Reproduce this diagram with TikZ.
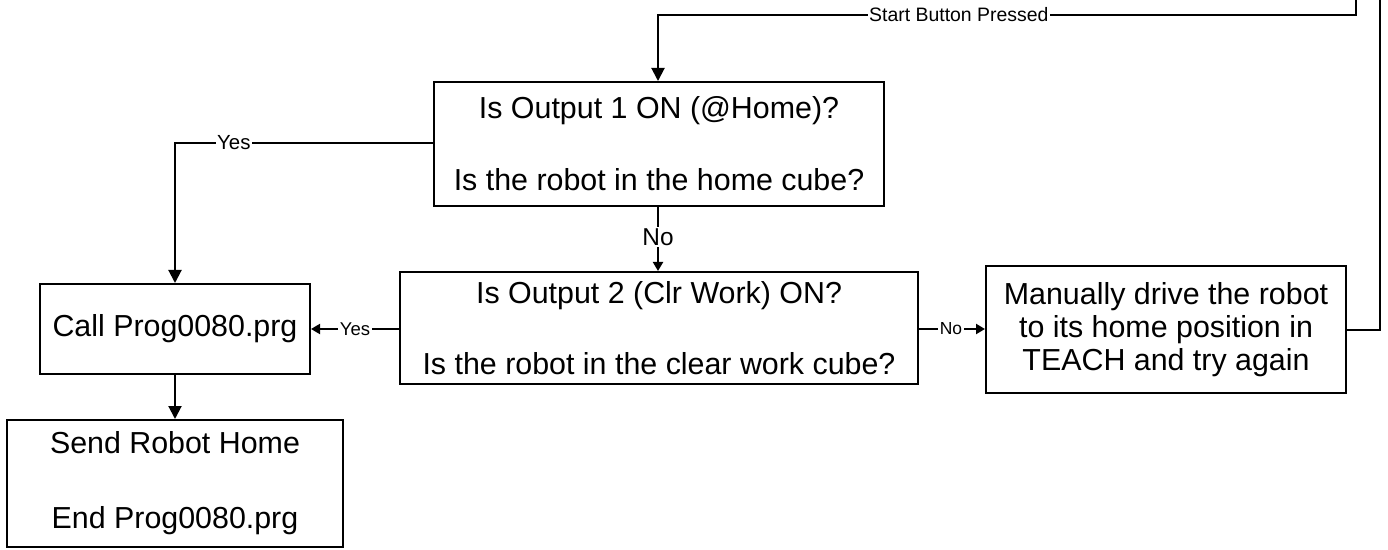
\documentclass[tikz,border=0pt]{standalone}
\usepackage{fontspec}
\setmainfont{Liberation Sans}
\usetikzlibrary{arrows.meta}
\begin{document}
\begin{tikzpicture}[x=1bp,y=-1bp,
  box/.style={draw,line width=2bp,inner sep=0pt,align=center,font=\fontsize{30.5}{33}\selectfont},
  conn/.style={line width=2bp},
  bigtip/.style={-{Triangle[length=13bp,width=13bp]}},
  smalltip/.style={-{Triangle[length=9bp,width=10bp]}},
  lab/.style={fill=white,inner sep=1.5bp}]
\clip (0,0) rectangle (1388,550);
\fill[white] (0,0) rectangle (1388,550);
\node[box,minimum width=450bp,minimum height=124bp] (q1) at (659,144) {Is Output 1 ON (@Home)?\\[39bp]Is the robot in the home cube?};
\node[box,minimum width=518bp,minimum height=112bp] (q2) at (659,328) {Is Output 2 (Clr Work) ON?\\[38bp]Is the robot in the clear work cube?};
\node[box,minimum width=360bp,minimum height=127bp] (man) at (1166,329.5) {Manually drive the robot\\to its home position in\\TEACH and try again};
\node[box,minimum width=270bp,minimum height=90bp] (call) at (175,329) {Call Prog0080.prg};
\node[box,minimum width=336bp,minimum height=127bp] (send) at (175,483.5) {Send Robot Home\\[42bp]End Prog0080.prg};
\coordinate (r1) at (1380,329.5);
\coordinate (r2) at (1380,-20);
\coordinate (r3) at (1356,-20);
\coordinate (r4) at (1356,15);
\coordinate (r5) at (658,15);
\coordinate (y1) at (175,143);
\draw[conn,bigtip] (man.east) -- (r1) -- (r2) -- (r3) -- (r4) -- node[lab,pos=0.569,font=\fontsize{19.5}{22}\selectfont] {Start Button Pressed} (r5) -- (q1.north -| r5);
\draw[conn,bigtip] (q1.west |- y1) -- node[lab,pos=0.772,font=\fontsize{20.5}{23}\selectfont] {Yes} (y1) -- (call.north);
\draw[conn,smalltip] (q1.south -| r5) -- node[lab,pos=0.47,font=\fontsize{24.5}{26}\selectfont] {No} (q2.north -| r5);
\draw[conn,smalltip] (q2.west |- call) -- node[lab,pos=0.5,font=\fontsize{18.6}{21}\selectfont] {Yes} (call.east);
\draw[conn,smalltip] (q2.east |- call) -- node[lab,pos=0.485,font=\fontsize{17.5}{20}\selectfont] {No} (man.west |- call);
\draw[conn,bigtip] (call.south) -- (send.north);
\end{tikzpicture}
\end{document}
